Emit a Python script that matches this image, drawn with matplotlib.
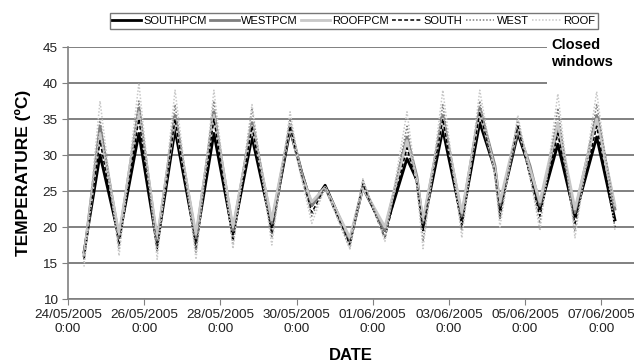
import matplotlib.pyplot as plt
from matplotlib.patches import Rectangle

plt.rcParams['font.family'] = ['Liberation Sans', 'DejaVu Sans']

# days since 24/05/2005 0:00 (peaks, troughs and shoulders)
days = [0.42, 0.84, 1.34, 1.86, 2.34, 2.81, 3.36, 3.83, 4.33, 4.83, 5.35, 5.83,
        6.14, 6.40, 6.75, 7.40, 7.74, 8.32, 8.90, 9.16, 9.32, 9.84, 10.34, 10.81,
        11.21, 11.34, 11.81, 12.13, 12.39, 12.86, 13.31, 13.88, 14.36]

southpcm = [16.5, 30.0, 18.5, 33.0, 17.5, 33.5, 18.0, 33.0, 19.0, 32.5, 20.0, 33.5,
            27.5, 23.0, 25.8, 18.0, 25.5, 19.5, 29.5, 26.5, 20.0, 33.5, 21.0, 34.5,
            28.0, 22.5, 33.0, 28.0, 22.5, 31.5, 21.5, 32.5, 21.0]
westpcm = [16.0, 34.0, 18.5, 36.5, 18.0, 35.5, 18.5, 36.0, 19.5, 34.5, 20.5, 34.0,
           27.5, 23.0, 25.5, 18.0, 25.5, 19.5, 32.5, 27.0, 20.5, 35.5, 21.5, 36.5,
           28.5, 23.0, 33.5, 28.5, 23.0, 34.0, 22.0, 35.5, 22.5]
roofpcm = [16.0, 33.0, 19.0, 36.0, 18.5, 35.0, 19.0, 35.5, 20.0, 34.0, 21.0, 34.0,
           27.0, 23.5, 25.5, 18.5, 25.5, 20.0, 32.0, 26.5, 21.0, 35.0, 22.0, 36.0,
           28.0, 23.5, 34.0, 28.0, 23.5, 34.5, 22.5, 35.0, 23.0]
south = [15.5, 32.0, 17.5, 35.0, 17.0, 35.0, 17.0, 35.0, 18.0, 34.0, 19.0, 34.0,
         27.0, 22.0, 25.5, 17.5, 26.0, 18.5, 31.0, 26.0, 19.5, 35.0, 20.0, 36.0,
         27.5, 21.5, 34.0, 27.0, 21.5, 33.0, 20.5, 34.0, 20.0]
west = [15.0, 35.0, 17.0, 37.5, 16.5, 37.0, 16.5, 37.5, 17.5, 36.5, 18.5, 35.0,
        27.0, 21.5, 25.5, 17.0, 26.5, 18.5, 34.0, 26.0, 18.0, 37.0, 19.5, 37.5,
        27.0, 21.0, 35.0, 27.0, 20.5, 36.5, 19.5, 37.0, 22.0]
roof = [14.5, 37.5, 16.0, 40.0, 15.5, 39.0, 15.5, 39.0, 17.0, 37.0, 17.5, 36.0,
        26.5, 20.5, 25.5, 17.0, 26.7, 18.0, 36.0, 25.5, 17.0, 39.0, 18.5, 39.0,
        27.0, 20.0, 35.5, 27.0, 19.5, 38.5, 18.5, 38.8, 19.5]

tick_days = [0, 2, 4, 6, 8, 10, 12, 14]
tick_labels = ['24/05/2005\n0:00', '26/05/2005\n0:00', '28/05/2005\n0:00',
               '30/05/2005\n0:00', '01/06/2005\n0:00', '03/06/2005\n0:00',
               '05/06/2005\n0:00', '07/06/2005\n0:00']

fig = plt.figure(figsize=(6.34, 3.63), dpi=100)
ax = fig.add_axes([0.1073, 0.1763, 0.8927, 0.6942])

ax.plot(days, southpcm, color='black', lw=2.0, label='SOUTHPCM', zorder=3)
ax.plot(days, westpcm, color='#7f7f7f', lw=2.0, label='WESTPCM', zorder=3)
ax.plot(days, roofpcm, color='#c8c8c8', lw=2.0, label='ROOFPCM', zorder=3)
ax.plot(days, south, color='black', lw=1.1, ls=(0, (2.5, 1.5)), label='SOUTH', zorder=4)
ax.plot(days, west, color='#7f7f7f', lw=1.1, ls=(0, (1, 1.2)), label='WEST', zorder=4)
ax.plot(days, roof, color='#c8c8c8', lw=1.1, ls=(0, (1, 1.2)), label='ROOF', zorder=4)

ax.set_xlim(0, 14.86)
ax.set_ylim(10, 45)
ax.set_yticks(range(10, 46, 5))
ax.set_xticks(tick_days)
ax.set_xticklabels(tick_labels)
ax.tick_params(labelsize=9.7, colors='#222222', length=4, color='#808080')
for lbl in ax.get_xticklabels():
    lbl.set_multialignment('center')
ax.yaxis.grid(True, color='#808080', lw=1.4, zorder=0.5)
ax.set_axisbelow(True)
for s in ['top', 'right']:
    ax.spines[s].set_visible(False)
for s in ['left', 'bottom']:
    ax.spines[s].set_color('#808080')
    ax.spines[s].set_linewidth(1.2)

# white patch behind the note, hides the grid there
ax.add_patch(Rectangle((12.57, 39.3), 3, 7, facecolor='white', edgecolor='none',
                       zorder=1, clip_on=False))
ax.text(12.68, 44.1, 'Closed\nwindows', fontsize=10.5, fontweight='bold',
        va='center', ha='left', linespacing=1.2, zorder=5)

ax.set_ylabel('TEMPERATURE (ºC)', fontsize=12.5, fontweight='bold', labelpad=8)
ax.set_xlabel('DATE', fontsize=12, fontweight='bold', labelpad=9)

leg = fig.legend(loc='center', bbox_to_anchor=(0.558, 0.942), ncol=6, fontsize=8,
                 frameon=True, fancybox=False, edgecolor='#555555',
                 handlelength=2.6, handletextpad=0.2, columnspacing=0.3,
                 borderpad=0.25, borderaxespad=0)
leg.get_frame().set_linewidth(1.0)

fig.savefig('out.png', dpi=100)
